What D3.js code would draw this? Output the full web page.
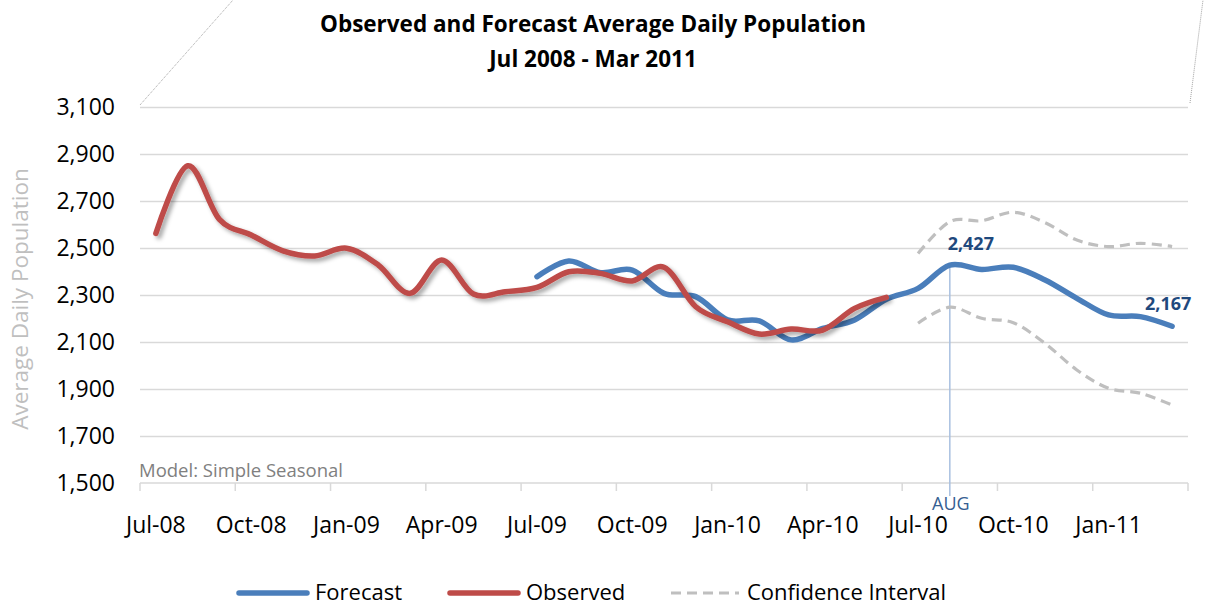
<!DOCTYPE html>
<html>
<head>
<meta charset="utf-8">
<script src="https://cdn.jsdelivr.net/npm/d3@7"></script>
<style>
  body { margin: 0; background: #fff; }
  svg { display: block; font-family: "Open Sans", sans-serif; }
  .grid line { stroke: #d9d9d9; stroke-width: 1.5; }
  .grid .domain { display: none; }
</style>
</head>
<body>
<div id="chart"></div>
<script>
// Observed vs forecast average daily population, Jul 2008 - Mar 2011
const MONTHS = ["Jul-08","Aug-08","Sep-08","Oct-08","Nov-08","Dec-08","Jan-09","Feb-09","Mar-09","Apr-09","May-09","Jun-09",
  "Jul-09","Aug-09","Sep-09","Oct-09","Nov-09","Dec-09","Jan-10","Feb-10","Mar-10","Apr-10","May-10","Jun-10",
  "Jul-10","Aug-10","Sep-10","Oct-10","Nov-10","Dec-10","Jan-11","Feb-11","Mar-11"];
const TICK_LABELS = ["Jul-08","Oct-08","Jan-09","Apr-09","Jul-09","Oct-09","Jan-10","Apr-10","Jul-10","Oct-10","Jan-11"];
const Y_TICKS = [1500, 1700, 1900, 2100, 2300, 2500, 2700, 2900, 3100];

// observed: Jul-08 .. Jun-10
const OBSERVED = [2562, 2850, 2622, 2555, 2488, 2466, 2499, 2428, 2307, 2449, 2304, 2314,
  2332, 2399, 2392, 2360, 2418, 2250, 2186, 2134, 2155, 2151, 2243, 2290];
// forecast: Jul-09 .. Mar-11
const FORECAST_START = 12;
const FORECAST = [2378, 2445, 2395, 2406, 2307, 2293, 2194, 2190, 2109, 2158, 2194, 2282,
  2328, 2427, 2409, 2418, 2364, 2286, 2215, 2208, 2167];
// confidence interval: Jul-10 .. Mar-11
const CI_START = 24;
const CI_UPPER = [2477, 2612, 2616, 2652, 2608, 2534, 2506, 2520, 2506];
const CI_LOWER = [2180, 2248, 2201, 2182, 2094, 1981, 1903, 1882, 1832];
const MARKED = ["Aug-10", "Mar-11"];

const W = 1212, H = 605;
const svg = d3.select("#chart").append("svg").attr("width", W).attr("height", H).attr("viewBox", `0 0 ${W} ${H}`);

const defs = svg.append("defs");
const f = defs.append("filter").attr("id", "shadow").attr("x", "-5%").attr("y", "-10%").attr("width", "110%").attr("height", "130%");
f.append("feDropShadow").attr("dx", 3).attr("dy", 3).attr("stdDeviation", 2.2)
  .attr("flood-color", "#000").attr("flood-opacity", 0.35);

const x = d3.scaleBand().domain(MONTHS).range([140, 1188]).padding(0);
const xc = m => x(m) + x.bandwidth() / 2;
const y = d3.scaleLinear().domain([1500, 3100]).range([483, 107]);

// decorative dotted slants at the top corners
svg.append("line").attr("x1", 140).attr("y1", 105).attr("x2", 233).attr("y2", 0)
  .attr("stroke", "#8c8c8c").attr("stroke-width", 0.8).attr("stroke-dasharray", "1,1");
svg.append("line").attr("x1", 1190).attr("y1", 103).attr("x2", 1203).attr("y2", 0)
  .attr("stroke", "#8c8c8c").attr("stroke-width", 0.8).attr("stroke-dasharray", "1,1");

// title
svg.append("text").attr("x", 593).attr("y", 32).attr("text-anchor", "middle")
  .attr("font-size", 22.5).attr("font-weight", "bold").attr("fill", "#000")
  .text("Observed and Forecast Average Daily Population");
svg.append("text").attr("x", 593).attr("y", 67).attr("text-anchor", "middle")
  .attr("font-size", 22.5).attr("font-weight", "bold").attr("fill", "#000")
  .text("Jul 2008 - Mar 2011");

// gridlines
svg.append("g").attr("class", "grid").attr("transform", "translate(140,0)")
  .call(d3.axisLeft(y).tickValues(Y_TICKS.slice(1)).tickSize(-1048).tickFormat(""));

// y labels
svg.append("g").selectAll("text").data(Y_TICKS).join("text")
  .attr("x", 115).attr("y", d => y(d) + 8).attr("text-anchor", "end")
  .attr("font-size", 23).attr("fill", "#000").text(d => d3.format(",")(d));

svg.append("text").attr("transform", "rotate(-90)").attr("x", -299).attr("y", 28)
  .attr("text-anchor", "middle").attr("font-size", 22.5).attr("fill", "#bfbfbf")
  .text("Average Daily Population");

// x axis
const tickMonths = MONTHS.filter((m, i) => i % 3 === 0);
svg.append("line").attr("x1", 140).attr("x2", 1188).attr("y1", y(1500)).attr("y2", y(1500))
  .attr("stroke", "#d9d9d9").attr("stroke-width", 1.5);
svg.append("g").selectAll("line").data(tickMonths.concat([null])).join("line")
  .attr("x1", d => d ? x(d) : 1188).attr("x2", d => d ? x(d) : 1188)
  .attr("y1", y(1500)).attr("y2", y(1500) + 8)
  .attr("stroke", "#d9d9d9").attr("stroke-width", 1.5);
svg.append("g").selectAll("text").data(TICK_LABELS).join("text")
  .attr("x", d => xc(d)).attr("y", 533).attr("text-anchor", "middle")
  .attr("font-size", 23).attr("fill", "#000").text(d => d);

svg.append("text").attr("x", 139).attr("y", 477).attr("font-size", 18.5).attr("fill", "#808080")
  .text("Model: Simple Seasonal");

// AUG marker
const aug = MARKED[0];
const augIdx = MONTHS.indexOf(aug) - FORECAST_START;
svg.append("line").attr("x1", xc(aug)).attr("x2", xc(aug)).attr("y1", y(FORECAST[augIdx])).attr("y2", 496)
  .attr("stroke", "#a9c0e0").attr("stroke-width", 1.5);
svg.append("text").attr("x", xc(aug) + 1).attr("y", 510).attr("text-anchor", "middle")
  .attr("font-size", 18).attr("fill", "#366092").text("AUG");

const line = d3.line().x(d => xc(d.m)).y(d => y(d.v)).curve(d3.curveCatmullRom.alpha(0));
const seq = (arr, start) => arr.map((v, i) => ({ m: MONTHS[start + i], v }));

// confidence interval
[CI_UPPER, CI_LOWER].forEach(arr => {
  svg.append("path").datum(seq(arr, CI_START)).attr("d", line)
    .attr("fill", "none").attr("stroke", "#bfbfbf").attr("stroke-width", 3.2)
    .attr("stroke-dasharray", "10,6");
});

// forecast
svg.append("path").datum(seq(FORECAST, FORECAST_START)).attr("d", line)
  .attr("fill", "none").attr("stroke", "#4a7ebb").attr("stroke-width", 5.5).attr("stroke-linecap", "round");

// observed
svg.append("path").datum(seq(OBSERVED, 0)).attr("d", line).attr("filter", "url(#shadow)")
  .attr("fill", "none").attr("stroke", "#be4b48").attr("stroke-width", 5.5).attr("stroke-linecap", "round");

// data labels
MARKED.forEach((m, k) => {
  const v = FORECAST[MONTHS.indexOf(m) - FORECAST_START];
  svg.append("text").attr("x", xc(m) + (k === 0 ? 21 : -4)).attr("y", y(v) - (k === 0 ? 15 : 16))
    .attr("text-anchor", "middle").attr("font-size", 18).attr("font-weight", "bold")
    .attr("fill", "#1f497d").text(d3.format(",")(v));
});

// legend
const LEGEND = [
  { label: "Forecast", color: "#4a7ebb", x: 237, dash: null, w: 5.5 },
  { label: "Observed", color: "#be4b48", x: 448, dash: null, w: 5.5 },
  { label: "Confidence Interval", color: "#bfbfbf", x: 669, dash: "10,6", w: 3.2 }
];
const lg = svg.append("g").selectAll("g").data(LEGEND).join("g").attr("transform", d => `translate(${d.x},593)`);
lg.append("line").attr("x1", 2).attr("x2", 70).attr("stroke", d => d.color).attr("stroke-width", d => d.w)
  .attr("stroke-dasharray", d => d.dash).attr("stroke-linecap", d => d.dash ? "butt" : "round");
lg.append("text").attr("x", 78).attr("y", 7).attr("font-size", 22).attr("fill", "#000").text(d => d.label);
</script>
</body>
</html>
